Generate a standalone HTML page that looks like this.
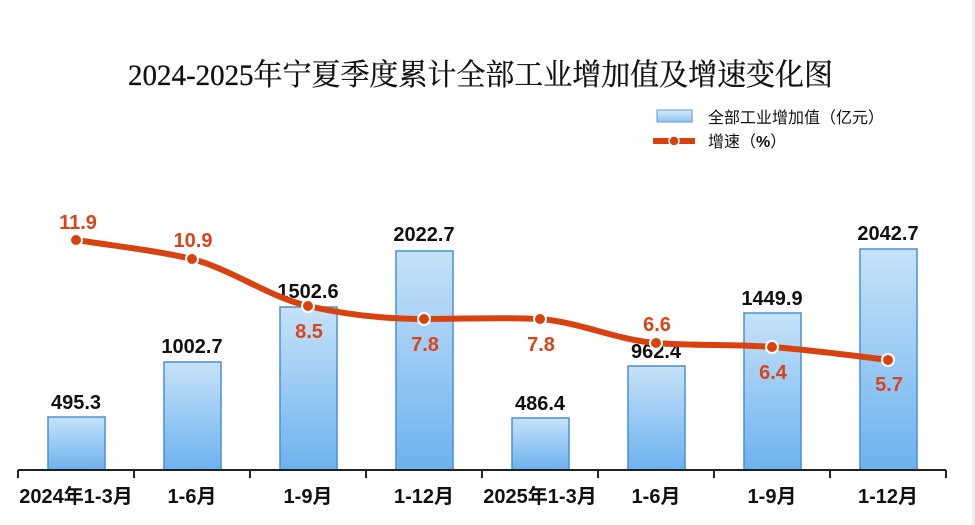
<!DOCTYPE html><html><head><meta charset="utf-8"><style>body{margin:0;background:#fff}svg{display:block}</style></head><body>
<svg width="975" height="525" viewBox="0 0 975 525" xmlns="http://www.w3.org/2000/svg">
<defs>
<linearGradient id="g" x1="0" y1="0" x2="0" y2="1"><stop offset="0" stop-color="#c6e2f8"/><stop offset="1" stop-color="#6cb2ef"/></linearGradient>
<linearGradient id="gl" x1="0" y1="0" x2="0" y2="1"><stop offset="0" stop-color="#d6ebfb"/><stop offset="1" stop-color="#8ec4f2"/></linearGradient>
</defs>
<rect x="972" y="0" width="3" height="525" fill="#eee"/>
<text x="128" y="85" font-family="Liberation Serif, Noto Serif CJK SC, serif" font-size="30" textLength="705" lengthAdjust="spacingAndGlyphs" fill="#111" stroke="#111" stroke-width="0.3">2024-2025年宁夏季度累计全部工业增加值及增速变化图</text>
<rect x="657" y="110" width="35" height="12" fill="url(#gl)" stroke="#5b9bd5" stroke-width="1"/>
<text x="708" y="123" font-family="Liberation Sans, Noto Sans CJK SC, sans-serif" font-size="16" fill="#111">全部工业增加值（亿元）</text>
<line x1="653" y1="141" x2="695" y2="141" stroke="#d9420f" stroke-width="6"/>
<circle cx="674" cy="141" r="5" fill="#d9420f" stroke="#fff" stroke-width="1.5"/>
<text x="708" y="147" font-family="Liberation Sans, Noto Sans CJK SC, sans-serif" font-size="16" fill="#111">增速（<tspan font-weight="bold">%</tspan>）</text>
<g stroke="#4a90d0" stroke-width="1.5" fill="url(#g)">
<rect x="48" y="417" width="57" height="53"/>
<rect x="164" y="362" width="57" height="108"/>
<rect x="280" y="307" width="57" height="163"/>
<rect x="396" y="251" width="57" height="219"/>
<rect x="512" y="418" width="57" height="52"/>
<rect x="628" y="366" width="57" height="104"/>
<rect x="744" y="313" width="57" height="157"/>
<rect x="860" y="249" width="57" height="221"/>
</g>
<g stroke="#222" stroke-width="2">
<line x1="18" y1="470" x2="946" y2="470"/>
<line x1="18" y1="470" x2="18" y2="478"/><line x1="134" y1="470" x2="134" y2="478"/><line x1="250" y1="470" x2="250" y2="478"/><line x1="366" y1="470" x2="366" y2="478"/><line x1="482" y1="470" x2="482" y2="478"/><line x1="598" y1="470" x2="598" y2="478"/><line x1="714" y1="470" x2="714" y2="478"/><line x1="830" y1="470" x2="830" y2="478"/><line x1="946" y1="470" x2="946" y2="478"/>
</g>
<g font-family="Liberation Sans, Noto Sans CJK SC, sans-serif" font-size="20" font-weight="bold" fill="#111" text-anchor="middle">
<text x="76" y="503">2024年1-3月</text><text x="192" y="503">1-6月</text><text x="308" y="503">1-9月</text><text x="424" y="503">1-12月</text><text x="540" y="503">2025年1-3月</text><text x="656" y="503">1-6月</text><text x="772" y="503">1-9月</text><text x="888" y="503">1-12月</text>
<text x="76" y="409" font-size="20">495.3</text><text x="192" y="353" font-size="20">1002.7</text><text x="308" y="298" font-size="20">1502.6</text><text x="424" y="241" font-size="20">2022.7</text><text x="540" y="410" font-size="20">486.4</text><text x="656" y="358" font-size="20">962.4</text><text x="772" y="305" font-size="20">1449.9</text><text x="888" y="240" font-size="20">2042.7</text>
</g>
<path d="M76,240 C115,246 153,250 192,259 C231,269 269,297 308,306 C347,315 385,319 424,319 C463,319 501,317 540,319 C579,322 617,340 656,343 C695,346 733,344 772,347 C811,350 849,355 888,360" fill="none" stroke="#d9420f" stroke-width="6" stroke-linejoin="round"/>
<g fill="#d9420f" stroke="#fff" stroke-width="2">
<circle cx="76" cy="240" r="6"/><circle cx="192" cy="259" r="6"/><circle cx="308" cy="306" r="6"/><circle cx="424" cy="319" r="6"/><circle cx="540" cy="319" r="6"/><circle cx="656" cy="343" r="6"/><circle cx="772" cy="347" r="6"/><circle cx="888" cy="360" r="6"/>
</g>
<g font-family="Liberation Sans, sans-serif" font-size="20" font-weight="bold" fill="#d9451a" text-anchor="middle">
<text x="78" y="229">11.9</text><text x="193" y="247">10.9</text><text x="309" y="338">8.5</text><text x="425" y="351">7.8</text><text x="541" y="351">7.8</text><text x="657" y="331">6.6</text><text x="773" y="379">6.4</text><text x="889" y="391">5.7</text>
</g>
</svg>
</body></html>
